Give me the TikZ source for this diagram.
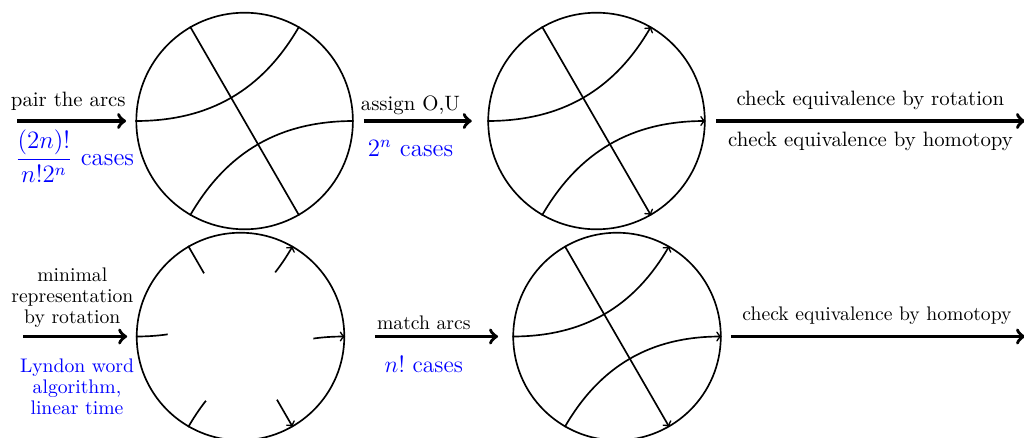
\documentclass[tikz,border=0pt]{standalone}
\begin{document}
\begin{tikzpicture}[x=0.4808pt,y=0.4808pt,
  bigdisk/.style={circle,draw,line width=0.8pt,inner sep=0pt,minimum size=104.14pt},
  smalldisk/.style={circle,draw,line width=0.8pt,inner sep=0pt,minimum size=99.8pt},
  chord/.style={line width=0.8pt},
  bigarrow/.style={line width=1.7pt,->},
  lbl/.style={inner sep=0pt,anchor=base},
  cnt/.style={inner sep=0pt,anchor=base,text=blue,font=\large},
  lowrow/.style={scale=0.945},
  block/.style={inner sep=0pt,align=center,font=\fontsize{10}{10.7}\selectfont,scale=0.945}
]
\useasboundingbox (0,0) rectangle (1024,437);

% circles
\node[bigdisk] (c1) at (244.6,316) {};
\node[bigdisk] (c2) at (596.5,316) {};
\node[smalldisk] (c3) at (240.5,100.5) {};
\node[smalldisk] (c4) at (617,100.5) {};

% circle 1: paired arcs
\draw[chord] (c1.180) to[out=0,in=240] (c1.60);
\draw[chord] (c1.240) to[out=60,in=180] (c1.0);
\draw[chord] (c1.120) -- (c1.300);

% circle 2: oriented arcs
\draw[chord,->] (c2.180) to[out=0,in=240] (c2.60);
\draw[chord,->] (c2.240) to[out=60,in=180] (c2.0);
\draw[chord,->] (c2.120) -- (c2.300);

% circle 3: only the ends of the arcs
\draw[chord,->] (c3.180) to[out=0,in=240] (c3.60);
\draw[chord,->] (c3.240) to[out=60,in=180] (c3.0);
\draw[chord,->] (c3.120) -- (c3.300);
\fill[white] (c3.center) circle[radius=72.8];

% circle 4: matched arcs
\draw[chord,->] (c4.180) to[out=0,in=240] (c4.60);
\draw[chord,->] (c4.240) to[out=60,in=180] (c4.0);
\draw[chord,->] (c4.120) -- (c4.300);

% arrow ends
\coordinate (a1s) at (17,316);
\coordinate (a3e) at (1025,316);
\coordinate (a4s) at (23,100.5);
\coordinate (a6e) at (1025,100.5);

% top row arrows
\draw[bigarrow,shorten >=4.5pt] (a1s) -- (c1.west);
\draw[bigarrow,shorten <=4.9pt,shorten >=7.5pt] (c1.east) -- (c2.west);
\draw[bigarrow,shorten <=5.2pt] (c2.east) -- (a3e);

% bottom row arrows
\draw[bigarrow,shorten >=4.2pt] (a4s) -- (c3.west);
\draw[bigarrow,shorten <=14.3pt,shorten >=6.9pt] (c3.east) -- (c4.west);
\draw[bigarrow,shorten <=4.5pt] (c4.east) -- (a6e);

% top row labels
\node[lbl] (t1) at (68.3,330.3) {pair the arcs};
\node[cnt] (n1) at (74.6,271.5) {$\displaystyle\frac{(2n)!}{n!2^n}$ cases};
\node[lbl] (t2) at (410.4,327) {assign O,U};
\node[cnt] (n2) at (410.5,280.3) {$2^n$ cases};
\node[lbl] (t3) at (870.3,332) {check equivalence by rotation};
\node[lbl] (t4) at (870.5,291) {check equivalence by homotopy};

% bottom row labels
\node[block] (t5) at (72.3,139.2) {minimal\\representation\\by rotation};
\node[block,text=blue] (n5) at (77,50.5) {Lyndon word\\algorithm,\\linear time};
\node[lbl,lowrow] (t6) at (423.8,108) {match arcs};
\node[cnt,lowrow] (n6) at (423.8,65) {$n!$ cases};
\node[lbl,lowrow] (t7) at (877,117) {check equivalence by homotopy};
\end{tikzpicture}
\end{document}
